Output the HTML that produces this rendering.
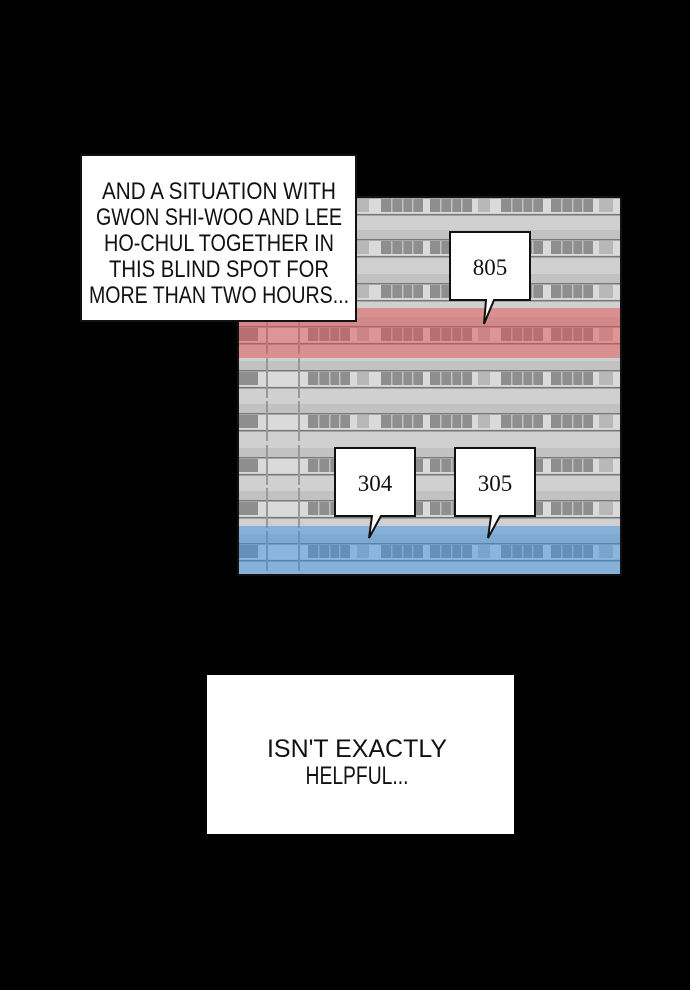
<!DOCTYPE html>
<html><head><style>
html,body{margin:0;padding:0;background:#000;width:690px;height:990px;overflow:hidden}
</style></head><body>
<svg width="690" height="990" xmlns="http://www.w3.org/2000/svg" xmlns:xlink="http://www.w3.org/1999/xlink" style="display:block">
<defs>
<clipPath id="bc"><rect x="238" y="197" width="383" height="378"/></clipPath>
<g id="row">
 <rect x="238" y="-17" width="383" height="10" fill="#c2c2c2"/>
 <rect x="238" y="-8" width="383" height="16" fill="#dadada"/>
 <rect x="238" y="-8" width="383" height="1.5" fill="#777"/>
 <rect x="238" y="9" width="383" height="1.5" fill="#777"/>
 <rect x="238" y="-6" width="20" height="13" fill="#8e8e8e"/>
 <rect x="266" y="-20" width="2" height="40" fill="#999"/>
 <rect x="298" y="-20" width="2" height="40" fill="#999"/>
 <g fill="#8e8e8e">
  <rect x="308" y="-6" width="42" height="13"/>
  <rect x="381" y="-6" width="42" height="13"/>
  <rect x="430" y="-6" width="42" height="13"/>
  <rect x="501" y="-6" width="42" height="13"/>
  <rect x="551" y="-6" width="42" height="13"/>
 </g>
 <g fill="#b8b8b8">
  <rect x="357" y="-6" width="12" height="13"/>
  <rect x="478" y="-6" width="12" height="13"/>
  <rect x="599" y="-6" width="14" height="13"/>
 </g>
 <g fill="#c0c0c0">
  <rect x="318" y="-6" width="1.5" height="13"/><rect x="329" y="-6" width="1.5" height="13"/><rect x="339" y="-6" width="1.5" height="13"/>
  <rect x="391" y="-6" width="1.5" height="13"/><rect x="402" y="-6" width="1.5" height="13"/><rect x="412" y="-6" width="1.5" height="13"/>
  <rect x="440" y="-6" width="1.5" height="13"/><rect x="451" y="-6" width="1.5" height="13"/><rect x="461" y="-6" width="1.5" height="13"/>
  <rect x="511" y="-6" width="1.5" height="13"/><rect x="522" y="-6" width="1.5" height="13"/><rect x="532" y="-6" width="1.5" height="13"/>
  <rect x="561" y="-6" width="1.5" height="13"/><rect x="572" y="-6" width="1.5" height="13"/><rect x="582" y="-6" width="1.5" height="13"/>
 </g>
</g>
</defs>
<rect width="690" height="990" fill="#000"/>
<g clip-path="url(#bc)">
<rect x="238" y="197" width="383" height="378" fill="#d0d0d0"/>
<use xlink:href="#row" href="#row" y="205"/>
<use xlink:href="#row" href="#row" y="247"/>
<use xlink:href="#row" href="#row" y="291"/>
<use xlink:href="#row" href="#row" y="334"/>
<use xlink:href="#row" href="#row" y="378"/>
<use xlink:href="#row" href="#row" y="421"/>
<use xlink:href="#row" href="#row" y="465"/>
<use xlink:href="#row" href="#row" y="508"/>
<use xlink:href="#row" href="#row" y="551"/>
<rect x="238" y="308" width="383" height="50" fill="#e05050" fill-opacity="0.5"/>
<rect x="238" y="526" width="383" height="49" fill="#3a90e0" fill-opacity="0.5"/>
</g>
<rect x="238" y="197" width="383" height="378" fill="none" stroke="#111" stroke-width="2"/>

<rect x="81" y="155" width="275" height="166" fill="#fff" stroke="#111" stroke-width="2"/>
<g font-family="Liberation Sans Narrow, Liberation Sans, sans-serif" font-size="24" fill="#111" text-anchor="middle">
<text x="219" y="199" textLength="234" lengthAdjust="spacingAndGlyphs">AND A SITUATION WITH</text>
<text x="219" y="225" textLength="246" lengthAdjust="spacingAndGlyphs">GWON SHI-WOO AND LEE</text>
<text x="219" y="251" textLength="230" lengthAdjust="spacingAndGlyphs">HO-CHUL TOGETHER IN</text>
<text x="219" y="277" textLength="220" lengthAdjust="spacingAndGlyphs">THIS BLIND SPOT FOR</text>
<text x="219" y="303" textLength="260" lengthAdjust="spacingAndGlyphs">MORE THAN TWO HOURS...</text>
</g>

<g stroke="#111" stroke-width="2" fill="#fff">
<path d="M450 232 H530 V300 H494 L484 324 L486 300 H450 Z"/>
<path d="M335 448 H415 V516 H381 L369 538 L372 516 H335 Z"/>
<path d="M455 448 H535 V516 H500 L488 538 L491 516 H455 Z"/>
</g>
<g font-family="Liberation Serif, serif" font-size="23" fill="#111" text-anchor="middle">
<text x="490" y="275">805</text>
<text x="375" y="491">304</text>
<text x="495" y="491">305</text>
</g>

<rect x="207" y="675" width="307" height="159" fill="#fff"/>
<g font-family="Liberation Sans Narrow, Liberation Sans, sans-serif" font-size="25" fill="#111" text-anchor="middle">
<text x="357" y="757" textLength="180" lengthAdjust="spacingAndGlyphs">ISN'T EXACTLY</text>
<text x="357" y="784" textLength="103" lengthAdjust="spacingAndGlyphs">HELPFUL...</text>
</g>
</svg>
</body></html>
